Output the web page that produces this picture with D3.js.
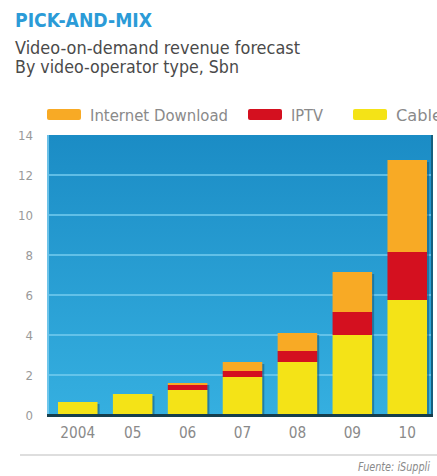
<!DOCTYPE html>
<html>
<head>
<meta charset="utf-8">
<script src="https://cdn.jsdelivr.net/npm/d3@7"></script>
<style>
  html, body { margin: 0; padding: 0; background: #fff; }
  svg { display: block; }
  .cond { font-family: "DejaVu Sans Condensed", "Liberation Sans Narrow", "Roboto", sans-serif; }
</style>
</head>
<body>
<svg id="chart" width="437" height="476"></svg>
<script>
// Video-on-demand revenue forecast, $bn, by operator type
const years = ["2004", "05", "06", "07", "08", "09", "10"];
const cable = [0.65, 1.05, 1.25, 1.9, 2.65, 4.0, 5.75];
const iptv = [0, 0, 0.25, 0.3, 0.55, 1.15, 2.4];
const internetDownload = [0, 0, 0.1, 0.45, 0.9, 2.0, 4.6];
const yTicks = [0, 2, 4, 6, 8, 10, 12, 14];

const seriesNames = ["Cable", "IPTV", "Internet Download"];
const seriesColors = { "Cable": "#f4e317", "IPTV": "#d4101f", "Internet Download": "#f8aa25" };
const legendOrder = ["Internet Download", "IPTV", "Cable"];

const rows = years.map((y, i) => ({
  year: y,
  "Cable": cable[i],
  "IPTV": iptv[i],
  "Internet Download": internetDownload[i]
}));

const svg = d3.select("#chart");
const plot = { left: 47, right: 433, top: 135, bottom: 415 };

const defs = svg.append("defs");
const grad = defs.append("linearGradient")
  .attr("id", "bg").attr("x1", 0).attr("y1", 0).attr("x2", 0).attr("y2", 1);
grad.append("stop").attr("offset", "0%").attr("stop-color", "#1b8cc5");
grad.append("stop").attr("offset", "100%").attr("stop-color", "#35afe0");

// narrow text helper: squeeze a label into a given width
function narrow(sel, w) {
  sel.attr("textLength", w).attr("lengthAdjust", "spacingAndGlyphs");
  return sel;
}

// Header
narrow(svg.append("text").attr("class", "cond")
  .attr("x", 15).attr("y", 27)
  .attr("font-size", 20).attr("font-weight", "bold")
  .attr("fill", "#2b9bd7")
  .text("PICK-AND-MIX"), 137);
narrow(svg.append("text").attr("class", "cond")
  .attr("x", 15).attr("y", 54)
  .attr("font-size", 18).attr("fill", "#4a4a4a")
  .text("Video-on-demand revenue forecast"), 285);
narrow(svg.append("text").attr("class", "cond")
  .attr("x", 15).attr("y", 73)
  .attr("font-size", 18).attr("fill", "#4a4a4a")
  .text("By video-operator type, Sbn"), 224);

// Legend
const legendX = { "Internet Download": 47, "IPTV": 248, "Cable": 353 };
const legendW = { "Internet Download": 138, "IPTV": 32, "Cable": 46 };
const legend = svg.append("g").selectAll("g").data(legendOrder).join("g")
  .attr("transform", d => `translate(${legendX[d]},109)`);
legend.append("rect")
  .attr("width", 34).attr("height", 11).attr("rx", 2)
  .attr("fill", d => seriesColors[d]);
legend.append("text").attr("class", "cond")
  .attr("x", 43).attr("y", 11.5)
  .attr("font-size", 15).attr("fill", "#8a8a8a")
  .attr("textLength", d => legendW[d]).attr("lengthAdjust", "spacingAndGlyphs")
  .text(d => d);

// Scales
const x = d3.scaleBand().domain(years)
  .range([50.3, 434.7]).paddingInner(0.28).paddingOuter(0.14);
const y = d3.scaleLinear().domain([0, 14]).range([plot.bottom, plot.top]);

// Plot background
svg.append("rect")
  .attr("x", plot.left).attr("y", plot.top)
  .attr("width", plot.right - plot.left).attr("height", plot.bottom - plot.top)
  .attr("fill", "url(#bg)");
svg.append("rect")
  .attr("x", plot.left).attr("y", plot.top)
  .attr("width", 2).attr("height", plot.bottom - plot.top)
  .attr("fill", "#7fcdef").attr("opacity", 0.8);
svg.append("rect")
  .attr("x", plot.right - 2).attr("y", plot.top)
  .attr("width", 2).attr("height", plot.bottom - plot.top)
  .attr("fill", "#15607f");

// Gridlines
svg.append("g").selectAll("line").data(yTicks.filter(t => t > 0 && t < 14)).join("line")
  .attr("x1", plot.left + 2).attr("x2", plot.right - 2)
  .attr("y1", d => y(d)).attr("y2", d => y(d))
  .attr("stroke", "#76ccef").attr("stroke-width", 1.5);

// Y axis labels
const yAxis = svg.append("g").attr("transform", `translate(${plot.left - 14},0)`)
  .call(d3.axisLeft(y).tickValues(yTicks).tickSize(0).tickPadding(0));
yAxis.select(".domain").remove();
yAxis.selectAll("text").attr("class", "cond")
  .attr("font-size", 13).attr("fill", "#9a9a9a")
  .attr("textLength", d => String(d).length * 7.5).attr("lengthAdjust", "spacingAndGlyphs");

// Stacked bars
const stack = d3.stack().keys(seriesNames)(rows);
const total = d => d["Cable"] + d["IPTV"] + d["Internet Download"];
const barG = svg.append("g");
// drop shadow on the right edge of each bar
barG.selectAll("rect.shadow").data(rows).join("rect")
  .attr("class", "shadow")
  .attr("x", d => x(d.year) + 2).attr("width", x.bandwidth())
  .attr("y", d => y(total(d)) + 2)
  .attr("height", d => plot.bottom - y(total(d)) - 2)
  .attr("fill", "#13577a").attr("opacity", 0.55);
barG.selectAll("g.layer").data(stack).join("g")
  .attr("class", "layer")
  .attr("fill", d => seriesColors[d.key])
  .selectAll("rect").data(d => d.map((v, i) => ({ v, year: years[i] })))
  .join("rect")
  .attr("x", d => x(d.year)).attr("width", x.bandwidth())
  .attr("y", d => y(d.v[1]))
  .attr("height", d => Math.max(0, y(d.v[0]) - y(d.v[1])));

// Baseline
svg.append("rect")
  .attr("x", plot.left).attr("y", plot.bottom - 1)
  .attr("width", plot.right - plot.left).attr("height", 3)
  .attr("fill", "#163e4c");

// X axis labels
const xAxis = svg.append("g").attr("transform", `translate(0,${plot.bottom + 12})`)
  .call(d3.axisBottom(x).tickSize(0).tickPadding(0));
xAxis.select(".domain").remove();
xAxis.selectAll("text").attr("class", "cond")
  .attr("font-size", 15).attr("fill", "#8a8a8a")
  .attr("textLength", d => d.length * 8.7).attr("lengthAdjust", "spacingAndGlyphs");

// Footer rule and source
svg.append("line")
  .attr("x1", 20).attr("x2", 437).attr("y1", 455).attr("y2", 455)
  .attr("stroke", "#bdbdbd").attr("stroke-width", 1);
narrow(svg.append("text").attr("class", "cond")
  .attr("x", 358).attr("y", 471)
  .attr("font-size", 12).attr("font-style", "italic").attr("fill", "#8a8a8a")
  .text("Fuente: iSuppli"), 72);
</script>
</body>
</html>
